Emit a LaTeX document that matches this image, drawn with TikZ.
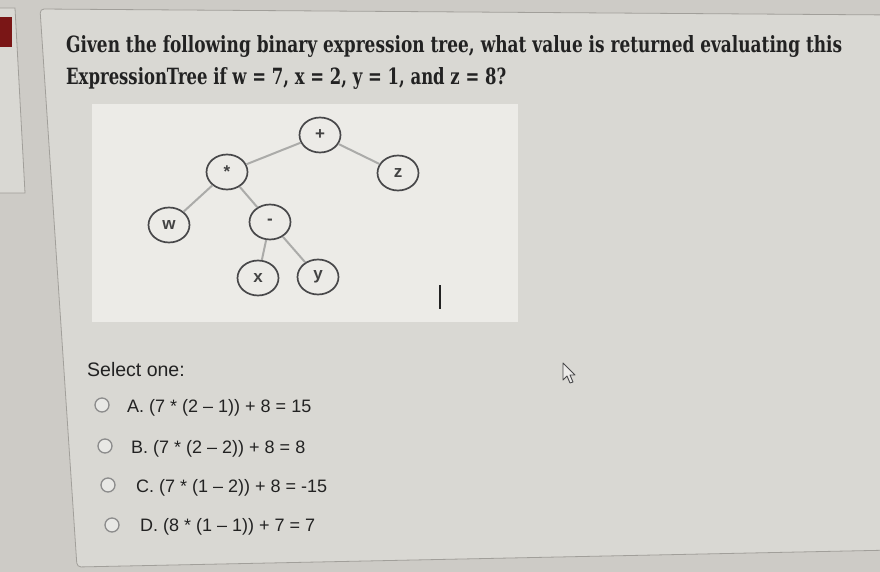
\documentclass[tikz,border=0pt]{standalone}
\usepackage{fontspec}
\setmainfont{DejaVu Serif}
\setsansfont{Liberation Sans}
\usepackage{graphicx}
\usetikzlibrary{shapes, positioning, calc}

\definecolor{deskbg}{HTML}{CDCBC6}
\definecolor{cardbg}{HTML}{D9D8D3}
\definecolor{cardline}{HTML}{A19F9A}
\definecolor{panelbg}{HTML}{ECEBE7}
\definecolor{edgegrey}{HTML}{ABABA9}
\definecolor{ringgrey}{HTML}{48484A}
\definecolor{inkdark}{HTML}{222222}
\definecolor{moodlered}{HTML}{7A1616}
\definecolor{radiogrey}{HTML}{8C8C8C}

\tikzset{
  treenode/.style={ellipse, draw=ringgrey, line width=1.7pt, fill=panelbg,
    minimum width=41pt, minimum height=35pt, inner sep=0pt,
    font=\sffamily\bfseries\fontsize{17}{17}\selectfont, text=inkdark!85!white},
  treeedge/.style={draw=edgegrey, line width=2pt},
  radio/.style={circle, draw=radiogrey, line width=1.3pt, fill=cardbg!60!white,
    minimum size=14pt, inner sep=0pt},
  answer/.style={anchor=base west, inner sep=0pt, text=inkdark,
    font=\sffamily\fontsize{18}{18}\selectfont},
  qline/.style={anchor=base west, inner sep=0pt, text=inkdark, font=\bfseries},
}

\begin{document}
\begin{tikzpicture}[x=1pt, y=-1pt]
  \useasboundingbox (0,0) rectangle (880,572);
  \fill[deskbg] (0,0) rectangle (880,572);

  % side block
  \filldraw[fill=cardbg, draw=cardline, line width=0.8pt]
    (-5,8) -- (15,8) -- (25,193) -- (-5,193) -- cycle;
  \fill[moodlered] (0,17) rectangle (12,47);

  % question card
  \filldraw[fill=cardbg, draw=cardline, line width=0.8pt, rounded corners=4pt]
    (40,9) -- (895,15) -- (895,550) -- (77,567) -- cycle;

  % question text
  \node[qline] (qone) at (66,53)
    {\resizebox{776pt}{17pt}{Given the following binary expression tree, what value is returned evaluating this}};
  \node[qline] (qtwo) at (66,85)
    {\resizebox{440pt}{17pt}{ExpressionTree if w = 7, x = 2, y = 1, and z = 8?}};

  % tree image
  \fill[panelbg] (92,104) rectangle (518,322);
  \node[treenode] (plus)  at (320,135) {+};
  \node[treenode] (times) at (227,172) {*};
  \node[treenode] (zz)    at (398,173) {z};
  \node[treenode] (ww)    at (169,225) {w};
  \node[treenode] (minus) at (270,222) {-};
  \node[treenode] (xx)    at (258,278) {x};
  \node[treenode] (yy)    at (318,277) {y};
  \draw[treeedge] (plus) -- (times);
  \draw[treeedge] (plus) -- (zz);
  \draw[treeedge] (times) -- (ww);
  \draw[treeedge] (times) -- (minus);
  \draw[treeedge] (minus) -- (xx);
  \draw[treeedge] (minus) -- (yy);
  \draw[inkdark, line width=1.3pt] (440,285) -- (440,309);

  % answers
  \node[anchor=base west, inner sep=0pt, text=inkdark,
        font=\sffamily\fontsize{19.5}{20}\selectfont] (select) at (87,376) {Select one:};
  \foreach \lbl/\cx/\cy/\tx/\ty/\txt in {
      a/102/405/127/412/{A. (7 * (2 – 1)) + 8 = 15},
      b/105/446/131/453/{B. (7 * (2 – 2)) + 8 = 8},
      c/108/485/136/492/{C. (7 * (1 – 2)) + 8 = -15},
      d/112/525/140/531/{D. (8 * (1 – 1)) + 7 = 7}} {
    \node[radio] (radio\lbl) at (\cx,\cy) {};
    \node[answer] (answer\lbl) at (\tx,\ty) {\txt};
  }

  % mouse pointer
  \filldraw[fill=cardbg!50!white, draw=ringgrey, line width=0.9pt, line join=round]
    (563,363) -- (563,380) -- (567,376) -- (570,383) -- (573,382) -- (570,375) -- (575,375) -- cycle;
\end{tikzpicture}
\end{document}
